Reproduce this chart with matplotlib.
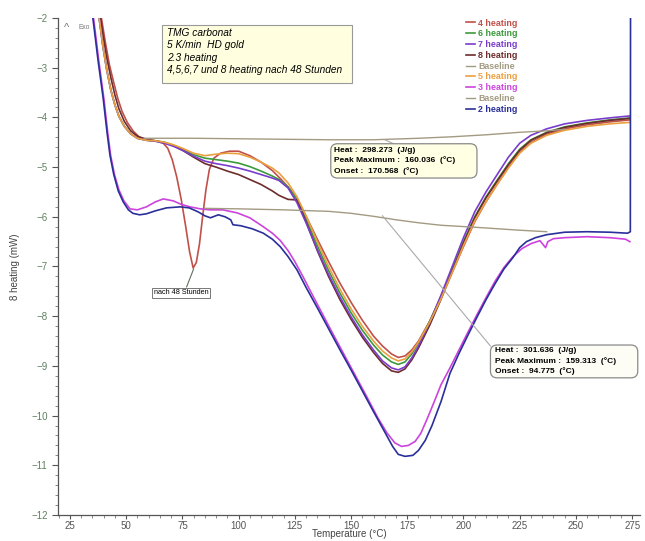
import matplotlib
matplotlib.use("Agg")
import matplotlib.pyplot as plt
from matplotlib.patches import FancyBboxPatch
from matplotlib.ticker import MultipleLocator, AutoMinorLocator

plt.rcParams['font.family'] = ['Liberation Sans', 'DejaVu Sans']

# 2 heating
t2 = [35.2, 36.3, 37.5, 38.7, 39.8, 41.5, 42.8, 44.5, 46.5, 48.7, 51.0, 53.0, 56.0, 59.0, 63.0, 68.0, 74.0, 78.0,
      82.0, 85.0, 87.5, 91.0, 94.0, 96.5, 97.5, 101.0, 106.0, 111.0, 115.0, 118.5, 122.0, 126.0, 130.0, 135.0, 140.0,
      145.0, 150.0, 155.0, 160.0, 165.0, 168.5, 171.0, 174.0, 177.5, 180.0, 183.0, 186.0, 190.0, 194.0, 198.0, 202.0,
      206.0, 210.0, 214.0, 218.0, 222.0, 225.0, 228.0, 232.0, 237.0, 245.0, 255.0, 265.0, 273.0, 274.2, 274.3]
m2 = [-2.0, -2.4, -2.85, -3.25, -3.62, -4.3, -4.76, -5.15, -5.48, -5.7, -5.86, -5.93, -5.96, -5.94, -5.88, -5.82,
      -5.8, -5.82, -5.9, -5.98, -6.02, -5.96, -6.0, -6.06, -6.16, -6.18, -6.24, -6.33, -6.45, -6.6, -6.8, -7.07,
      -7.42, -7.83, -8.25, -8.67, -9.08, -9.5, -9.92, -10.33, -10.62, -10.78, -10.82, -10.8, -10.7, -10.5, -10.2,
      -9.72, -9.15, -8.75, -8.38, -8.02, -7.67, -7.35, -7.05, -6.82, -6.62, -6.5, -6.42, -6.36, -6.31, -6.3, -6.31,
      -6.33, -6.3, -1.5]

# 3 heating
t3 = [35.5, 36.6, 37.8, 39.0, 40.1, 41.8, 43.1, 44.8, 46.8, 49.0, 51.7, 55.0, 59.0, 63.0, 66.5, 71.0, 74.5, 78.4,
      83.0, 87.3, 93.0, 99.3, 105.0, 111.0, 115.0, 118.4, 122.0, 125.0, 128.6, 132.0, 137.0, 142.0, 147.0, 152.0,
      157.0, 162.0, 166.0, 169.5, 172.5, 175.5, 178.5, 181.0, 184.0, 187.0, 190.0, 194.0, 198.0, 202.0, 206.0,
      210.0, 214.0, 218.0, 222.0, 226.0, 230.0, 234.0, 236.5, 237.5, 240.0, 245.0, 255.0, 265.0, 272.0, 274.0]
m3 = [-2.0, -2.4, -2.85, -3.25, -3.62, -4.3, -4.76, -5.15, -5.46, -5.68, -5.84, -5.86, -5.8, -5.7, -5.64, -5.68,
      -5.75, -5.8, -5.84, -5.86, -5.86, -5.92, -6.02, -6.2, -6.33, -6.47, -6.68, -6.9, -7.2, -7.5, -7.93, -8.36,
      -8.78, -9.2, -9.62, -10.05, -10.35, -10.55, -10.62, -10.6, -10.52, -10.36, -10.05, -9.72, -9.38, -9.04,
      -8.68, -8.32, -7.97, -7.63, -7.3, -7.02, -6.8, -6.64, -6.54, -6.48, -6.62, -6.5, -6.44, -6.42, -6.4, -6.42,
      -6.45, -6.5]

# 4 heating (after 48 h, with the extra dip near 80 °C)
t4 = [39.0, 40.8, 42.6, 44.5, 46.3, 48.2, 50.5, 53.2, 56.0, 60.0, 64.0, 66.5, 68.5, 70.5, 72.5, 74.5, 76.5, 78.2,
      79.8, 81.2, 82.6, 84.0, 85.5, 87.0, 89.0, 92.0, 96.0, 100.0, 105.0, 110.0, 115.0, 119.0, 123.0, 127.0, 131.0,
      135.0, 140.0, 145.0, 150.0, 155.0, 160.0, 164.0, 168.0, 171.0, 174.0, 177.0, 180.0, 185.0, 190.0, 195.0,
      200.0, 205.0, 210.0, 215.0, 220.0, 225.0, 230.0, 237.0, 245.0, 255.0, 265.0, 274.0]
m4 = [-2.0, -2.5, -2.95, -3.3, -3.62, -3.88, -4.1, -4.28, -4.4, -4.46, -4.48, -4.52, -4.62, -4.85, -5.2, -5.65,
      -6.2, -6.7, -7.03, -6.92, -6.55, -6.0, -5.45, -5.05, -4.82, -4.72, -4.68, -4.68, -4.77, -4.9, -5.07, -5.25,
      -5.45, -5.72, -6.08, -6.45, -6.9, -7.33, -7.72, -8.08, -8.4, -8.6, -8.76, -8.83, -8.8, -8.68, -8.5, -8.1,
      -7.64, -7.12, -6.6, -6.1, -5.7, -5.34, -5.0, -4.7, -4.5, -4.34, -4.23, -4.15, -4.09, -4.05]

# 5, 6, 7, 8 heating share the same temperature grid
tU = [38.0, 39.6, 41.4, 43.2, 45.0, 46.8, 49.2, 52.0, 55.0, 59.0, 63.0, 67.0, 71.0, 75.0, 80.0, 85.0, 90.0, 95.0,
      100.0, 105.0, 110.0, 115.0, 118.0, 122.0, 126.0, 130.0, 135.0, 140.0, 145.0, 150.0, 155.0, 160.0, 164.0,
      168.0, 171.0, 174.0, 177.0, 180.0, 185.0, 190.0, 195.0, 200.0, 205.0, 210.0, 215.0, 220.0, 225.0, 230.0,
      237.0, 245.0, 255.0, 265.0, 274.0]
m5 = [-2.0, -2.55, -3.05, -3.45, -3.75, -3.98, -4.18, -4.33, -4.42, -4.46, -4.47, -4.5, -4.55, -4.62, -4.72,
      -4.77, -4.74, -4.72, -4.73, -4.8, -4.9, -5.02, -5.12, -5.32, -5.6, -5.98, -6.5, -7.0, -7.45, -7.85, -8.2,
      -8.5, -8.7, -8.84, -8.9, -8.86, -8.72, -8.52, -8.12, -7.65, -7.12, -6.58, -6.08, -5.7, -5.35, -5.02, -4.72,
      -4.52, -4.36, -4.26, -4.18, -4.13, -4.1]
m6 = [-2.0, -2.55, -3.05, -3.45, -3.75, -3.98, -4.18, -4.33, -4.42, -4.46, -4.47, -4.5, -4.56, -4.64, -4.75,
      -4.82, -4.85, -4.88, -4.92, -4.99, -5.08, -5.18, -5.25, -5.4, -5.66, -6.04, -6.58, -7.08, -7.53, -7.93, -8.28,
      -8.58, -8.78, -8.92, -8.97, -8.92, -8.76, -8.54, -8.1, -7.6, -7.05, -6.5, -6.0, -5.6, -5.26, -4.93, -4.64,
      -4.45, -4.3, -4.19, -4.11, -4.05, -4.01]
m7 = [-2.0, -2.55, -3.05, -3.45, -3.75, -3.98, -4.18, -4.33, -4.42, -4.46, -4.48, -4.52, -4.58, -4.66, -4.78,
      -4.88, -4.93, -4.97, -5.02, -5.08, -5.15, -5.22, -5.27, -5.42, -5.72, -6.12, -6.66, -7.16, -7.61, -8.01,
      -8.37, -8.68, -8.9, -9.04, -9.08, -9.02, -8.84, -8.6, -8.12, -7.58, -7.0, -6.42, -5.9, -5.5, -5.15, -4.8,
      -4.52, -4.36, -4.23, -4.13, -4.06, -4.01, -3.97]
m8 = [-1.8, -2.3, -2.8, -3.2, -3.55, -3.83, -4.08, -4.27, -4.38, -4.44, -4.47, -4.51, -4.57, -4.66, -4.8, -4.93,
      -5.0, -5.08, -5.15, -5.25, -5.35, -5.48, -5.57, -5.65, -5.66, -6.1, -6.68, -7.2, -7.66, -8.06, -8.42, -8.73,
      -8.95, -9.1, -9.13, -9.06, -8.88, -8.64, -8.18, -7.66, -7.1, -6.53, -6.02, -5.62, -5.28, -4.95, -4.66, -4.46,
      -4.31, -4.2, -4.12, -4.06, -4.02]

# integration baselines
tb1 = [58.0, 80.0, 100.0, 120.0, 140.0, 160.0, 180.0, 195.0, 210.0, 225.0, 237.0, 245.0]
mb1 = [-4.42, -4.42, -4.43, -4.44, -4.45, -4.45, -4.42, -4.39, -4.35, -4.3, -4.27, -4.24]
tb2 = [85.0, 100.0, 120.0, 140.0, 150.0, 160.0, 170.0, 180.0, 190.0, 205.0, 225.0, 237.0]
mb2 = [-5.83, -5.84, -5.86, -5.89, -5.93, -5.99, -6.06, -6.12, -6.17, -6.21, -6.27, -6.3]

res1 = ['Heat :  298.273  (J/g)', 'Peak Maximum :  160.036  (°C)', 'Onset :  170.568  (°C)']
res2 = ['Heat :  301.636  (J/g)', 'Peak Maximum :  159.313  (°C)', 'Onset :  94.775  (°C)']
info = ['TMG carbonat', '5 K/min  HD gold', '2.3 heating', '4,5,6,7 und 8 heating nach 48 Stunden']

c_base = '#a39a82'
fig = plt.figure(figsize=(6.45, 5.41), dpi=100)
ax = fig.add_axes([58 / 645, 1 - 515 / 541, 582 / 645, 497 / 541])

ax.set_xlim(19.7, 278.5)
ax.set_ylim(-12, -2)
# y units per x unit on screen, keeps rounded corners round
asp = (10 / 497) / (258.8 / 582)

l4, = ax.plot(t4, m4, color='#c0504a', lw=1.2)
l6, = ax.plot(tU, m6, color='#3c9a3c', lw=1.2)
l8, = ax.plot(tU, m8, color='#6e2c2c', lw=1.2)
l7, = ax.plot(tU, m7, color='#7a3ccc', lw=1.2)
l5, = ax.plot(tU, m5, color='#eba040', lw=1.2)
l3, = ax.plot(t3, m3, color='#cc44dd', lw=1.2)
l2, = ax.plot(t2, m2, color='#2a2f9a', lw=1.2)
lb1, = ax.plot(tb1, mb1, color=c_base, lw=1.0)
lb2, = ax.plot(tb2, mb2, color=c_base, lw=1.0)

leg = ax.legend([l4, l6, l7, l8, lb1, l5, l3, lb2, l2],
                ['4 heating', '6 heating', '7 heating', '8 heating', 'Baseline', '5 heating', '3 heating',
                 'Baseline', '2 heating'],
                loc='upper left', bbox_to_anchor=(0.695, 1.006), frameon=False, handlelength=1.0,
                handletextpad=0.4, labelspacing=0.2, prop={'size': 6.4, 'weight': 'bold'}, labelcolor='linecolor',
                borderaxespad=0)

# leader lines from the result boxes
ax.plot([164.0, 212.0], [-5.98, -8.6], color='#aaaaaa', lw=0.8)
ax.plot([165.0, 170.0], [-4.45, -4.55], color='#aaaaaa', lw=0.8)
ax.plot([76.9, 80.0], [-7.41, -7.05], color='#607060', lw=0.8)

# result boxes
ax.add_patch(FancyBboxPatch((141.0, -5.22), 65.0, 0.69, boxstyle='round,pad=0,rounding_size=3.0',
                            mutation_aspect=asp, fc='#ffffe4', ec='#8a8a8a', lw=0.9, zorder=4))
ax.add_patch(FancyBboxPatch((212.0, -9.24), 65.5, 0.66, boxstyle='round,pad=0,rounding_size=3.0',
                            mutation_aspect=asp, fc='#fdfdf6', ec='#8a8a8a', lw=0.9, zorder=4))
ax.text(142.5, -4.875, '\n'.join(res1), fontsize=6.0, fontweight='bold', va='center', ha='left',
        linespacing=1.45, zorder=5)
ax.text(214.0, -8.91, '\n'.join(res2), fontsize=6.0, fontweight='bold', va='center', ha='left',
        linespacing=1.45, zorder=5)

ax.text(74.5, -7.53, 'nach 48 Stunden', fontsize=5.2, ha='center', va='center',
        bbox=dict(boxstyle='square,pad=0.25', fc='white', ec='#777777', lw=0.7))

ax.add_patch(FancyBboxPatch((66.0, -3.3), 84.5, 1.16, boxstyle='square,pad=0', fc='#ffffe0', ec='#999999',
                            lw=0.8, zorder=4))
ax.text(68.0, -2.2, '\n'.join(info), fontsize=7.3, style='italic', va='top', ha='left', linespacing=1.3,
        zorder=5)
ax.text(22.3, -2.2, '^', fontsize=8, color='#777777', va='center')
ax.text(29.0, -2.2, 'Exo', fontsize=4.8, color='#777777', va='center')

ax.xaxis.set_major_locator(MultipleLocator(25))
ax.xaxis.set_minor_locator(AutoMinorLocator(5))
ax.yaxis.set_major_locator(MultipleLocator(1))
ax.yaxis.set_minor_locator(AutoMinorLocator(5))
for s in ['top', 'right']:
    ax.spines[s].set_visible(False)
for s in ['left', 'bottom']:
    ax.spines[s].set_color('#555555')
    ax.spines[s].set_linewidth(0.9)
ax.tick_params(axis='y', which='major', labelsize=7, labelcolor='#5f805f', color='#555555', length=4)
ax.tick_params(axis='x', which='major', labelsize=7, labelcolor='#555555', color='#555555', length=3, pad=1)
ax.tick_params(which='minor', length=2, color='#777777')
ax.set_xlabel('Temperature (°C)', fontsize=7, color='#444444', labelpad=-1)
ax.set_ylabel('8 heating (mW)', fontsize=7, color='#444444', labelpad=8)

fig.savefig('out.png', dpi=100)
